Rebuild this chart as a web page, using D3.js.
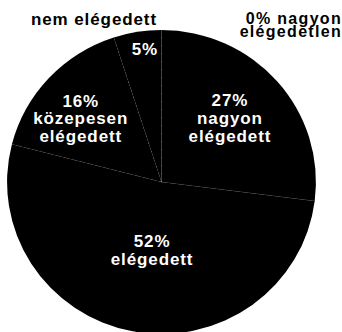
<!DOCTYPE html>
<html>
<head>
<meta charset="utf-8">
<script src="https://cdn.jsdelivr.net/npm/d3@7/dist/d3.min.js"></script>
<style>
  html, body { margin: 0; padding: 0; background: #fff; }
  svg { display: block; }
  text { font-family: "Liberation Sans", Arial, Helvetica, sans-serif; font-weight: bold; font-size: 17px; letter-spacing: 0.9px; }
  .corner { font-size: 16px; letter-spacing: 1.3px; }
</style>
</head>
<body>
<svg id="chart" width="342" height="332"></svg>
<script>
// Satisfaction shares, clockwise from 12 o'clock
const categories = ["nagyon elégedett", "elégedett", "közepesen elégedett", "nem elégedett", "nagyon elégedetlen"];
const values = [27, 52, 16, 5, 0];
const percentLabels = ["27%", "52%", "16%", "5%", "0%"];

// Label layout (radius as a fraction of the pie radius, angle nudge in degrees)
const labelLayout = [
  { r: 0.61, nudge: -2 },
  { r: 0.45, nudge: -3 },
  { r: 0.67, nudge: -4.5 },
  { r: 0.88, nudge: 2 },
  null
];

const W = 342, H = 332;
const cx = 161.5, cy = 182, R = 152, sx = 1.016;

const svg = d3.select("#chart");

const pie = d3.pie().sort(null).value(d => d.value);
const data = categories.map((c, i) => ({ name: c, value: values[i], pct: percentLabels[i], i }));
const arcs = pie(data);

const arc = d3.arc().innerRadius(0).outerRadius(R);

const g = svg.append("g").attr("transform", `translate(${cx},${cy}) scale(${sx},1)`);

g.selectAll("path.slice")
  .data(arcs)
  .join("path")
  .attr("class", "slice")
  .attr("d", arc)
  .attr("fill", "#000");

// Faint dotted separators along slice boundaries
const boundaries = arcs.filter(a => a.data.value > 0).map(a => a.startAngle);
g.selectAll("line.sep")
  .data(boundaries)
  .join("line")
  .attr("class", "sep")
  .attr("x1", 0).attr("y1", 0)
  .attr("x2", a => Math.sin(a) * R)
  .attr("y2", a => -Math.cos(a) * R)
  .attr("stroke", "#fff")
  .attr("stroke-opacity", 0.3)
  .attr("stroke-width", 0.7)
  .attr("stroke-dasharray", "1,7");

// In-slice labels
const inner = svg.append("g");
arcs.forEach((a, i) => {
  const lay = labelLayout[i];
  if (!lay || a.data.value === 0) return;
  const mid = (a.startAngle + a.endAngle) / 2 + lay.nudge * Math.PI / 180;
  const x = cx + Math.sin(mid) * R * lay.r * sx;
  const y = cy - Math.cos(mid) * R * lay.r;
  let lines;
  if (a.data.name === "nem elégedett") lines = [a.data.pct];
  else if (a.data.name === "nagyon elégedett") lines = [a.data.pct, "nagyon", "elégedett"];
  else if (a.data.name === "közepesen elégedett") lines = [a.data.pct, "közepesen", "elégedett"];
  else lines = [a.data.pct, a.data.name];
  const lh = 17.8;
  const t = inner.append("text")
    .attr("fill", "#fff")
    .attr("text-anchor", "middle")
    .attr("x", x)
    .attr("y", y - (lines.length - 1) * lh / 2 + 6);
  lines.forEach((s, k) => {
    t.append("tspan").attr("x", x).attr("dy", k === 0 ? 0 : lh).text(s);
  });
});

// Outside labels
svg.append("text")
  .attr("x", 94).attr("y", 25)
  .attr("text-anchor", "middle")
  .attr("fill", "#000")
  .text(categories[3]);

const zeroLabel = svg.append("text")
  .attr("class", "corner")
  .attr("text-anchor", "end")
  .attr("fill", "#000")
  .attr("y", 23.5);
zeroLabel.append("tspan").attr("x", 342).text(percentLabels[4] + " nagyon");
zeroLabel.append("tspan").attr("x", 342).attr("dy", 13).text("elégedetlen");
</script>
</body>
</html>
